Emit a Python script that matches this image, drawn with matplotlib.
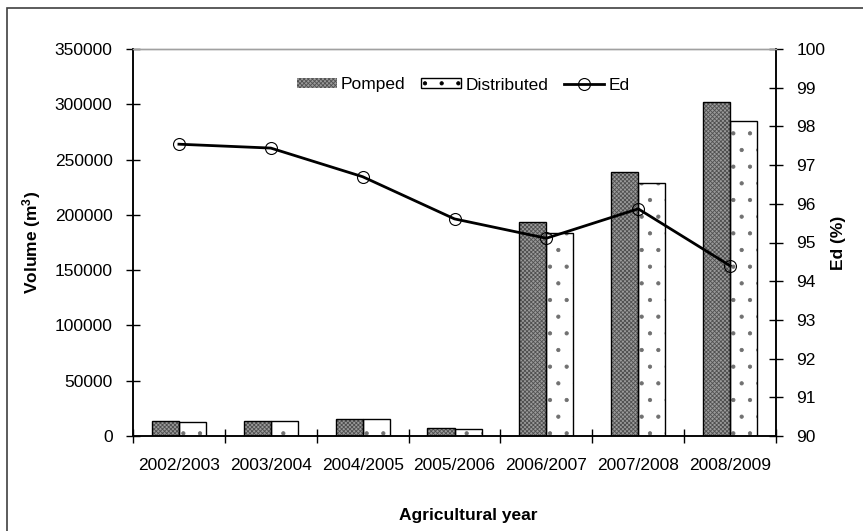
import numpy as np
import matplotlib
matplotlib.use("Agg")
import matplotlib.pyplot as plt
from matplotlib.patches import Patch, Rectangle
from matplotlib.lines import Line2D

plt.rcParams['font.family'] = ['Liberation Sans', 'DejaVu Sans']
plt.rcParams['mathtext.default'] = 'regular'
plt.rcParams['hatch.linewidth'] = 0.6

# ---------------- DATA ---------------- #
years = ["2002/2003", "2003/2004", "2004/2005", "2005/2006",
         "2006/2007", "2007/2008", "2008/2009"]
pomped = [13800, 13800, 15100, 7000, 193700, 239000, 302200]
distributed = [12700, 13700, 15000, 6500, 183200, 228400, 285000]
ed = [97.54, 97.44, 96.70, 95.61, 95.11, 95.87, 94.40]

vol_ticks = np.arange(0, 350001, 50000)
ed_ticks = np.arange(90, 101, 1)

FS = 12.5
POMP_FACE, POMP_HATCH = "#9a9a9a", "#505050"

# ---------------- FIGURE ---------------- #
fig = plt.figure(figsize=(8.63, 5.31), dpi=100)
ax = fig.add_axes([133 / 863, 1 - 436 / 531, 643 / 863, 387 / 531])
ax2 = ax.twinx()

x = np.arange(len(years))
w = 0.294

# pomped: gray fine crosshatch, drawn twice so hatch and edge differ
ax.bar(x - w / 2, pomped, w, color=POMP_FACE, hatch="xxxxxxxx",
       edgecolor=POMP_HATCH, linewidth=0, zorder=2)
ax.bar(x - w / 2, pomped, w, fill=False, edgecolor="black", linewidth=1.0, zorder=3)
# distributed: white with sparse dots
ax.bar(x + w / 2, distributed, w, color="white", hatch=".",
       edgecolor="#707070", linewidth=0, zorder=2)
ax.bar(x + w / 2, distributed, w, fill=False, edgecolor="black", linewidth=1.0, zorder=3)

ax2.plot(x, ed, color="black", linewidth=2.0, marker="o", markersize=8.6,
         markerfacecolor="none", markeredgecolor="black", markeredgewidth=0.8)

# ---------------- AXES ---------------- #
ax.set_xlim(-0.5, len(years) - 0.5)
ax.set_ylim(0, 350000)
ax.set_yticks(vol_ticks)
ax.set_xticks(x)
ax.set_xticklabels(years)
ax.set_xticks(np.arange(-0.5, len(years)), minor=True)
ax.tick_params(axis="x", which="major", length=0, pad=16, labelsize=FS)
ax.tick_params(axis="x", which="minor", direction="inout", length=9.4, width=1.0)
ax.tick_params(axis="y", direction="inout", length=9.4, width=1.0, pad=10, labelsize=FS)

ax2.set_ylim(90, 100)
ax2.set_yticks(ed_ticks)
ax2.tick_params(axis="y", direction="inout", length=9.4, width=1.0, pad=10, labelsize=FS)

for a in (ax, ax2):
    a.spines["top"].set_color("#a0a0a0")
    a.spines["top"].set_linewidth(1.0)
    for s in ("left", "right", "bottom"):
        a.spines[s].set_linewidth(1.1)

ax.set_ylabel("Volume (m$^3$)", fontsize=FS, fontweight="bold")
ax.yaxis.set_label_coords(-0.14, 0.5)
ax2.set_ylabel("Ed (%)", fontsize=FS, fontweight="bold")
ax2.yaxis.set_label_coords(1.085, 0.5)
ax.set_xlabel("Agricultural year", fontsize=FS, fontweight="bold")
ax.xaxis.set_label_coords(0.521, -0.185)

# ---------------- LEGEND ---------------- #
handles = [
    Patch(facecolor=POMP_FACE, hatch="xxxxxxxx", edgecolor=POMP_HATCH, linewidth=0),
    Patch(facecolor="white", hatch=".", edgecolor="black", linewidth=1.0),
    Line2D([], [], color="black", linewidth=2.0, marker="o", markersize=8.6,
           markerfacecolor="none", markeredgewidth=0.8),
]
fig.legend(handles, ["Pomped", "Distributed", "Ed"], loc="center",
           bbox_to_anchor=(0.5365, 1 - 85 / 531), ncol=3, frameon=False,
           fontsize=FS, handlelength=2.3, handleheight=0.5,
           handletextpad=0.25, columnspacing=0.9)

# outer frame
fig.patches.append(Rectangle((7 / 863, -0.1), 2, 1.1 - 8 / 531,
                             transform=fig.transFigure, fill=False,
                             edgecolor="#404040", linewidth=1.2))

fig.savefig("out.png", dpi=100)
